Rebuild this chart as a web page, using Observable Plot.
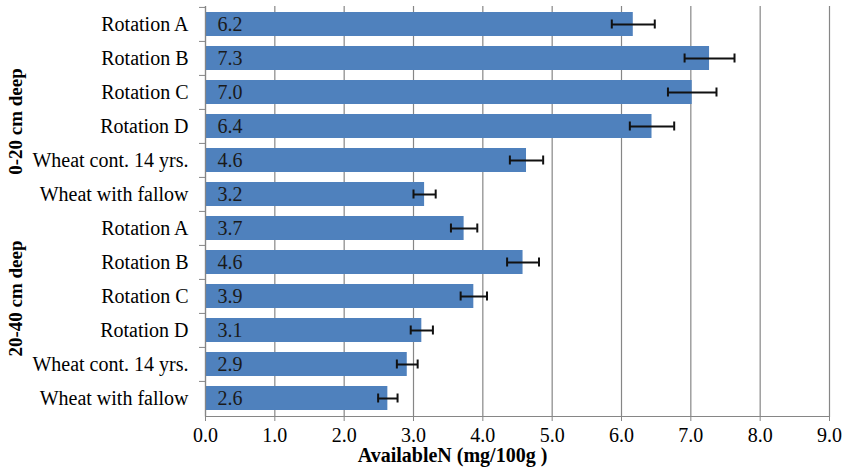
<!DOCTYPE html>
<html><head><meta charset="utf-8">
<script src="https://cdn.jsdelivr.net/npm/d3@7"></script>
<script src="https://cdn.jsdelivr.net/npm/@observablehq/plot@0.6"></script>
<style>body{margin:0;background:#fff} svg text{font-family:"Liberation Serif","Times New Roman",serif;}</style>
</head><body><div id="chart"></div>
<script>
const depths = ["0-20 cm deep","0-20 cm deep","0-20 cm deep","0-20 cm deep","0-20 cm deep","0-20 cm deep",
  "20-40 cm deep","20-40 cm deep","20-40 cm deep","20-40 cm deep","20-40 cm deep","20-40 cm deep"];
const treatments = ["Rotation A","Rotation B","Rotation C","Rotation D","Wheat cont. 14 yrs.","Wheat with fallow",
  "Rotation A","Rotation B","Rotation C","Rotation D","Wheat cont. 14 yrs.","Wheat with fallow"];
const values = [6.17,7.27,7.02,6.44,4.63,3.16,3.73,4.58,3.87,3.12,2.91,2.63];
const errors = [0.31,0.36,0.35,0.32,0.24,0.16,0.19,0.23,0.19,0.16,0.15,0.14];
const xTicks = [0,1,2,3,4,5,6,7,8,9];
const groups = ["0-20 cm deep","20-40 cm deep"];
const xTitle = "AvailableN (mg/100g )";

const data = values.map((v,i) => ({i, depth: depths[i], treatment: treatments[i], value: v, err: errors[i]}));
const serif = "Liberation Serif";
const gray = "#868686";

const chart = Plot.plot({
  width: 844, height: 476,
  marginLeft: 205, marginRight: 15, marginTop: 6, marginBottom: 60,
  style: {fontFamily: serif, fontSize: "19px", background: "#fff", color: "#000"},
  x: {domain: [0, 9], label: null},
  y: {domain: d3.range(treatments.length), paddingInner: 0.298, paddingOuter: 0.149, label: null},
  marks: [
    Plot.gridX(xTicks, {stroke: gray, strokeOpacity: 1, strokeWidth: 1.2}),
    Plot.barX(data, {y: "i", x: "value", fill: "#4f81bd"}),
    Plot.text(data, {y: "i", frameAnchor: "left", dx: 12, text: d => d.value.toFixed(1), textAnchor: "start", fill: "#1a1a1a", fontSize: 20, fontFamily: serif}),
    Plot.ruleY(data, {y: "i", x1: d => d.value - d.err, x2: d => d.value + d.err, stroke: "#111", strokeWidth: 2}),
    Plot.tickX(data, {y: "i", x: d => d.value - d.err, stroke: "#111", strokeWidth: 2, insetTop: 7.5, insetBottom: 7.5}),
    Plot.tickX(data, {y: "i", x: d => d.value + d.err, stroke: "#111", strokeWidth: 2, insetTop: 7.5, insetBottom: 7.5}),
    Plot.ruleX([0], {stroke: gray, strokeWidth: 1.2}),
    Plot.frame({anchor: "bottom", stroke: gray, strokeWidth: 1.2}),
    Plot.axisY({tickSize: 0, tickPadding: 17, tickFormat: i => treatments[i], fill: "#000", fontSize: 20, fontFamily: serif}),
    Plot.axisY({tickSize: 6, tickFormat: () => "", dy: -17.09, stroke: gray}),
    Plot.axisX(xTicks, {tickSize: 5, tickPadding: 6, tickFormat: d => d.toFixed(1), stroke: gray, fill: "#000", fontSize: 20, fontFamily: serif, label: null}),
    Plot.text([groups[0]], {y: () => 0, frameAnchor: "left", dx: -190, dy: 97, rotate: -90, textAnchor: "middle", text: d => d, fontWeight: "bold", fontSize: 19, fontFamily: serif, fill: "#000"}),
    Plot.text([groups[1]], {y: () => 6, frameAnchor: "left", dx: -190, dy: 70, rotate: -90, textAnchor: "middle", text: d => d, fontWeight: "bold", fontSize: 19, fontFamily: serif, fill: "#000"}),
    Plot.text([xTitle], {frameAnchor: "bottom", dx: -65, dy: 45, text: d => d, fontWeight: "bold", fontSize: 20, fontFamily: serif, fill: "#000"})
  ]
});
document.getElementById("chart").appendChild(chart);
</script>
</body></html>
